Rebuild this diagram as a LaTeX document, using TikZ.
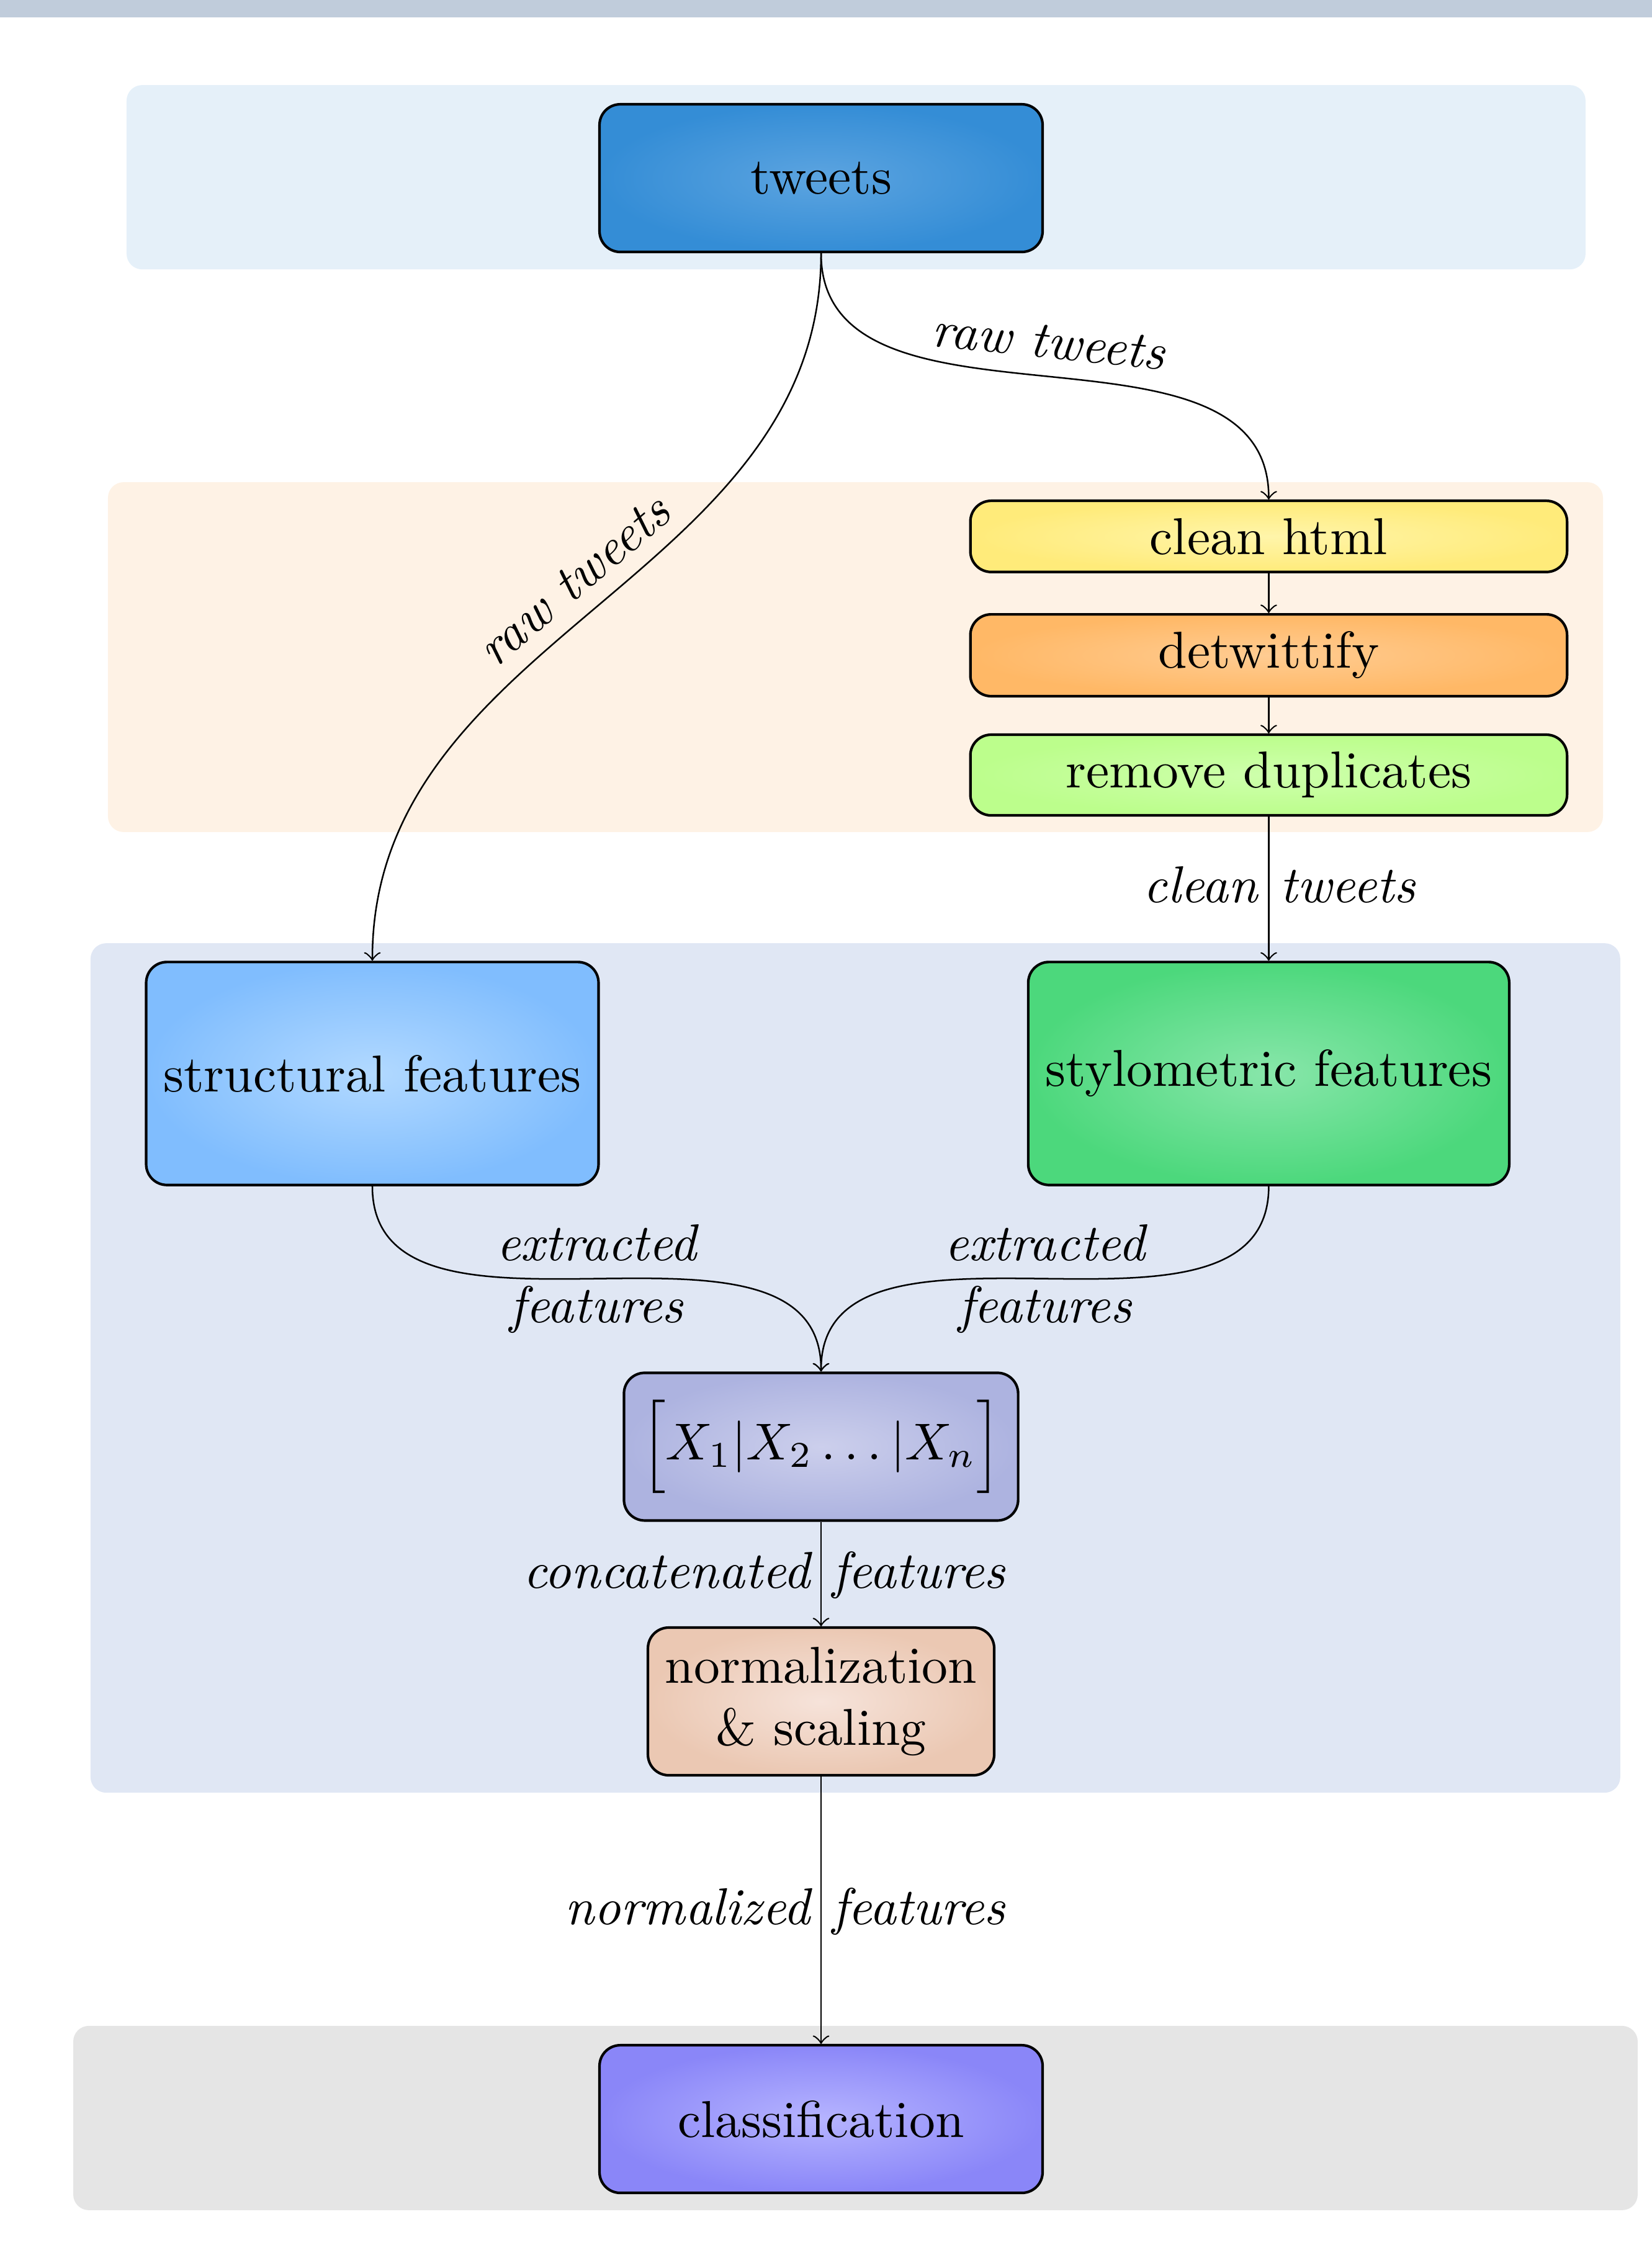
\documentclass[tikz,border=0pt]{standalone}
\usepackage{amsmath}

\definecolor{bandcol}{HTML}{C0CCDB}
\definecolor{srcpanel}{HTML}{E5F0F9}
\definecolor{prepanel}{HTML}{FEF2E5}
\definecolor{featpanel}{HTML}{E0E7F4}
\definecolor{clspanel}{HTML}{E5E5E5}

\begin{document}
\begin{tikzpicture}[x=1cm,y=1cm,
		box/.style={draw, rounded corners=4pt, line width=0.5pt, align=center},
		srcbox/.style={box, minimum width=3cm, minimum height=1cm},
		cleanbox/.style={box, minimum width=4.04cm},
		featbox/.style={box, minimum height=1.51cm},
		midbox/.style={box, minimum height=1cm},
		link/.style={->, line width=0.3pt},
		lbl/.style={font=\itshape},
		lblleft/.style={lbl, anchor=east, inner sep=2pt, text height=1.5ex, text depth=.25ex},
		lblright/.style={lbl, anchor=west, inner sep=2pt, text height=1.5ex, text depth=.25ex},
		panel/.style={rounded corners=3pt}]
		\useasboundingbox (0,0) rectangle (11.185,-15.29);
		\fill[bandcol] (0,0) rectangle (11.185,-0.118);
		% background panels
		\fill[panel, srcpanel] (0.857,-0.576) rectangle (10.735,-1.824);
		\fill[panel, prepanel] (0.731,-3.265) rectangle (10.853,-5.634);
		\fill[panel, featpanel] (0.613,-6.387) rectangle (10.970,-12.139);
		\fill[panel, clspanel] (0.496,-13.718) rectangle (11.088,-14.966);
		% nodes
		\node[srcbox, inner color={rgb,255:red,92;green,164;blue,224}, outer color={rgb,255:red,52;green,141;blue,214}] (tweets) at (5.559,-1.206) {tweets};
		\node[cleanbox, inner color={rgb,255:red,255;green,245;blue,170}, outer color={rgb,255:red,255;green,235;blue,122}] (clean) at (8.59,-3.632) {clean html};
		\node[cleanbox, inner color={rgb,255:red,255;green,204;blue,146}, outer color={rgb,255:red,255;green,184;blue,102}] (detw) at (8.59,-4.437) {detwittify};
		\node[cleanbox, inner color={rgb,255:red,206;green,255;blue,172}, outer color={rgb,255:red,188;green,254;blue,140}] (dedup) at (8.59,-5.248) {remove duplicates};
		\node[featbox, inner color={rgb,255:red,178;green,217;blue,255}, outer color={rgb,255:red,128;green,189;blue,254}] (struct) at (2.521,-7.269) {structural features};
		\node[featbox, inner color={rgb,255:red,136;green,230;blue,170}, outer color={rgb,255:red,76;green,216;blue,124}] (stylo) at (8.59,-7.269) {stylometric features};
		\node[midbox, inner color={rgb,255:red,204;green,207;blue,236}, outer color={rgb,255:red,173;green,179;blue,224}] (concat) at (5.559,-9.796) {$\Big[X_1|X_2\ldots|X_n\Big]$};
		\node[midbox, inner color={rgb,255:red,246;green,227;blue,218}, outer color={rgb,255:red,235;green,200;blue,179}] (norm) at (5.559,-11.521) {normalization\\ \& scaling};
		\node[srcbox, inner color={rgb,255:red,182;green,180;blue,255}, outer color={rgb,255:red,138;green,134;blue,248}] (classif) at (5.559,-14.349) {classification};
		% connectors
		\draw[link] (tweets.south) to[out=-90, in=90] node [midway, above, sloped, lbl] {raw tweets} (struct.north);
		\draw[link] (tweets.south) to[out=-90, in=90] node [midway, above, sloped, lbl] {raw tweets} (clean.north);
		\draw[link] (clean) -- (detw);
		\draw[link] (detw) -- (dedup);
		\draw[link] (dedup) -- (stylo) node [midway, lblleft] {clean} node [midway, lblright] {tweets};
		\draw[link] (struct.south) to[out=-90, in=90] node [midway, align=center, lbl] {extracted\\features} (concat.north);
		\draw[link] (stylo.south) to[out=-90, in=90] node [midway, align=center, lbl] {extracted\\features} (concat.north);
		\draw[link] (concat) -- (norm) node [midway, lblleft] {concatenated} node [midway, lblright] {features};
		\draw[link] (norm) -- (classif) node [midway, lblleft] {normalized} node [midway, lblright] {features};
	\end{tikzpicture}
\end{document}
